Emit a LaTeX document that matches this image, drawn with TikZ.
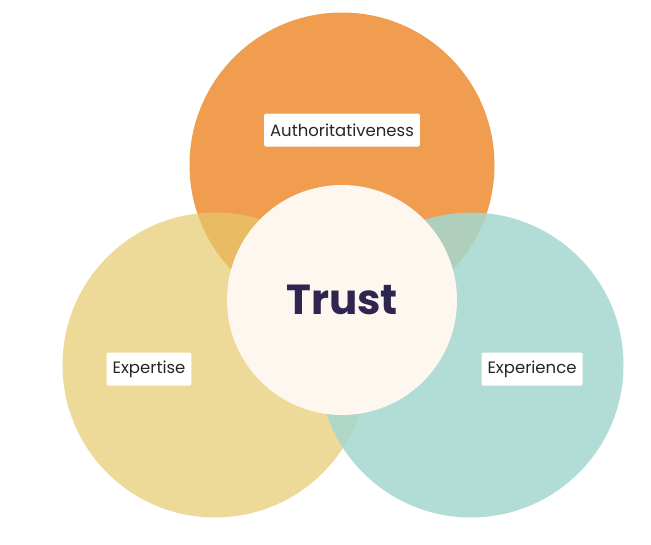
\documentclass[tikz,border=0pt]{standalone}
\usepackage{fontspec}
\setmainfont{Poppins}
\usepackage{tikz}
\usetikzlibrary{shapes, positioning}

\definecolor{authorange}{HTML}{F09D4F}
\definecolor{expyellow}{HTML}{E7CA6C}
\definecolor{expteal}{HTML}{A4D7CF}
\definecolor{trustcream}{HTML}{FDF7F0}
\definecolor{trustink}{HTML}{2E2550}

\begin{document}
\begin{tikzpicture}[
    x=1pt, y=-1pt,
    pillar/.style={circle, inner sep=0pt, minimum size=305pt},
    core/.style={circle, inner sep=0pt, minimum size=230pt, fill=trustcream,
        text=trustink, font=\bfseries\fontsize{42}{46}\selectfont},
    tag/.style={fill=white, rounded corners=1.5pt, inner xsep=6pt,
        minimum height=33pt, text=black!85, font=\fontsize{16.5}{20}\selectfont}
]
    \useasboundingbox (0,0) rectangle (651,544);

    \node[pillar, fill=authorange] (A) at (342,165) {};
    \node[pillar, fill=expyellow, fill opacity=0.7] (E) at (215,365) {};
    \node[pillar, fill=expteal, fill opacity=0.85] (X) at (471,365) {};

    \node[core] (T) at (342,300) {Trust};

    \node[tag] (a) at (A.center) [yshift=35pt] {Authoritativeness};
    \node[tag] (e) at (E.center) [xshift=-66pt, yshift=-4pt] {Expertise};
    \node[tag] (x) at (X.center) [xshift=61pt, yshift=-4pt] {Experience};
\end{tikzpicture}
\end{document}
